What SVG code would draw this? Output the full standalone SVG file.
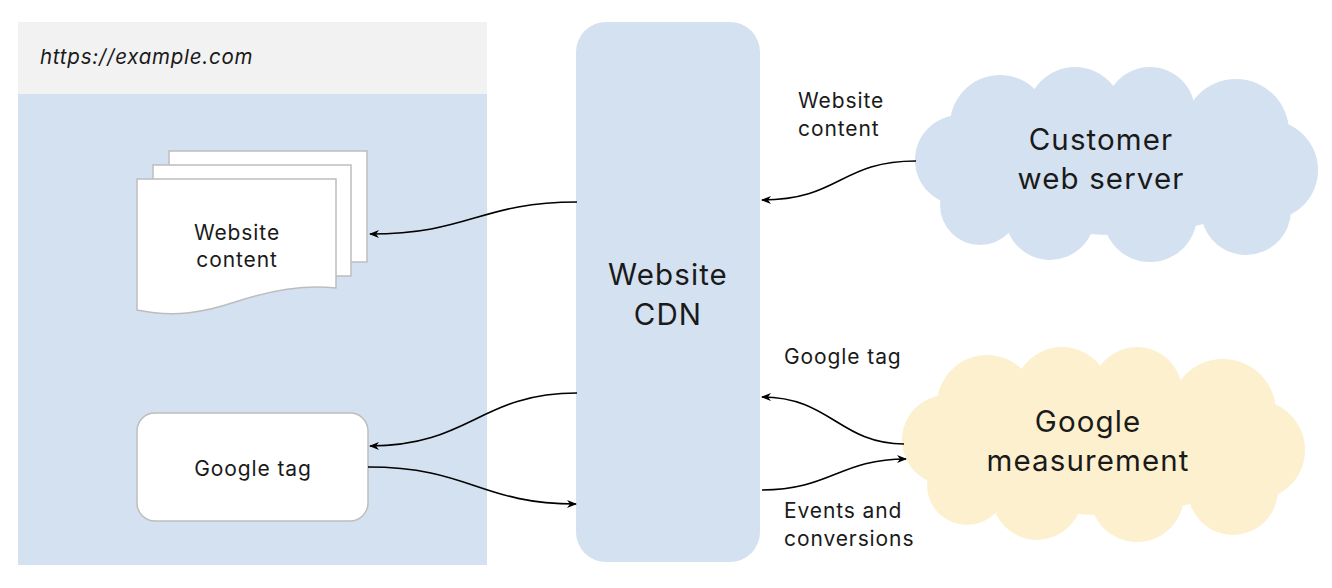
<svg xmlns="http://www.w3.org/2000/svg" width="1332" height="588" viewBox="0 0 1332 588">
<style>
  text { font-family: Inter, "Noto Sans", "Liberation Sans", sans-serif; fill: #1a1a1a; }
  .big { font-size: 29.5px; letter-spacing: 1.1px; text-anchor: middle; }
  .mid { font-size: 21px; letter-spacing: 0.9px; text-anchor: middle; }
  .lbl { font-size: 21px; letter-spacing: 0.9px; }
  .url { font-size: 20.5px; letter-spacing: 0.75px; font-style: italic; }
  .page { fill: #ffffff; stroke: #bdbdbd; stroke-width: 1.5; }
  .conn { fill: none; stroke: #000000; stroke-width: 1.6; marker-end: url(#arr); }
</style>
<defs>
  <marker id="arr" viewBox="0 0 10 8" refX="9" refY="4" markerWidth="10" markerHeight="8" markerUnits="userSpaceOnUse" orient="auto">
    <path d="M0,0 L10,4 L0,8 L3,4 Z" fill="#000"/>
  </marker>
  <g id="cloud">
    <ellipse cx="201" cy="100" rx="160" ry="70"/>
    <circle cx="44" cy="95" r="45"/>
    <circle cx="84" cy="60" r="50"/>
    <circle cx="159" cy="50" r="48"/>
    <circle cx="234" cy="47" r="45"/>
    <circle cx="320" cy="67" r="53"/>
    <circle cx="352" cy="105" r="50"/>
    <circle cx="330" cy="145" r="45"/>
    <circle cx="234" cy="150" r="47"/>
    <circle cx="134" cy="150" r="45"/>
    <circle cx="64" cy="140" r="40"/>
  </g>
</defs>
<rect width="1332" height="588" fill="#ffffff"/>

<g id="browser">
  <rect x="18" y="22" width="469" height="543" fill="#d4e1f0"/>
  <rect x="18" y="22" width="469" height="72" fill="#f2f2f2"/>
  <text x="40" y="64" class="url">https://example.com</text>
</g>

<g id="website-content">
  <rect class="page" x="169" y="151" width="198" height="111"/>
  <rect class="page" x="153" y="165" width="198" height="111"/>
  <path class="page" d="M137,179 H336 V288 C300,284 265,292 235,302 C205,312 175,318 137,310 Z"/>
  <text x="237" y="240" class="mid">Website</text>
  <text x="237" y="267" class="mid">content</text>
</g>

<g id="google-tag">
  <rect class="page" x="137" y="413" width="231" height="108" rx="18"/>
  <text x="253" y="476" class="mid">Google tag</text>
</g>

<g id="website-cdn">
  <rect x="576" y="22" width="184" height="540" rx="30" fill="#d4e1f0"/>
  <text x="668" y="285" class="big">Website</text>
  <text x="668" y="325" class="big">CDN</text>
</g>

<g id="customer-web-server">
  <use href="#cloud" x="916" y="65" fill="#d4e1f0"/>
  <text x="1101" y="150" class="big">Customer</text>
  <text x="1101" y="189" class="big">web server</text>
</g>

<g id="google-measurement">
  <use href="#cloud" x="903" y="345" fill="#fcf0cf"/>
  <text x="1088" y="432" class="big">Google</text>
  <text x="1088" y="471" class="big">measurement</text>
</g>

<g id="connectors">
  <path class="conn" d="M577,202 C480,202 470,234 370,234"/>
  <path class="conn" d="M577,393 C480,393 470,446 370,446"/>
  <path class="conn" d="M368,467 C470,467 480,504 576,504"/>
  <path class="conn" d="M916,161 C840,161 840,200 762,200"/>
  <path class="conn" d="M904,444 C840,444 830,397 762,397"/>
  <path class="conn" d="M762,490 C830,490 840,459 906,459"/>
</g>

<g id="labels">
  <text x="798" y="108" class="lbl">Website</text>
  <text x="798" y="136" class="lbl">content</text>
  <text x="784" y="364" class="lbl">Google tag</text>
  <text x="784" y="518" class="lbl">Events and</text>
  <text x="784" y="546" class="lbl">conversions</text>
</g>
</svg>
